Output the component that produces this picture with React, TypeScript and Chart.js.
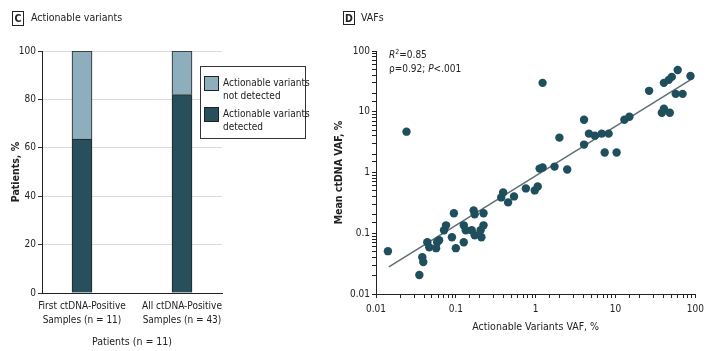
import React, { useEffect, useRef } from "react";
import { Chart, registerables } from "chart.js";
Chart.register(...registerables);

const FONT = "'DejaVu Sans Condensed', 'Liberation Sans Narrow', sans-serif";

// Panel C
const barCategories = [
  ["First ctDNA-Positive", "Samples (n = 11)"],
  ["All ctDNA-Positive", "Samples (n = 43)"],
];
const detected = [63.6, 82];
const notDetected = [36.4, 18];
const barLegend = ["Actionable variants not detected", "Actionable variants detected"];

// Panel D
const vafActionable = [0.0141, 0.0241, 0.0349, 0.038, 0.0391, 0.0439, 0.0464, 0.0583, 0.0617, 0.0566, 0.0711, 0.0753, 0.0945, 0.0893, 0.1, 0.1256, 0.133, 0.1256, 0.167, 0.172, 0.158, 0.172, 0.222, 0.222, 0.209, 0.204, 0.391, 0.37, 0.451, 0.535, 0.753, 0.972, 1.06, 1.12, 1.22, 1.22, 1.72, 2.48, 1.98, 4.03, 4.03, 4.64, 5.51, 6.72, 8.19, 7.31, 10.3, 12.9, 14.9, 26.3, 40.3, 46.4, 50.6, 60.0, 86.7, 56.6, 69.1, 38.0, 47.8, 40.3];
const vafMean = [0.0507, 4.7, 0.0205, 0.0404, 0.0335, 0.0712, 0.0589, 0.0712, 0.0768, 0.0568, 0.112, 0.135, 0.213, 0.086, 0.0568, 0.135, 0.112, 0.0712, 0.238, 0.205, 0.112, 0.0927, 0.213, 0.135, 0.086, 0.112, 0.47, 0.389, 0.322, 0.404, 0.547, 0.507, 0.589, 1.16, 1.21, 29.9, 1.25, 1.12, 3.75, 7.39, 2.88, 4.36, 4.04, 4.36, 4.36, 2.13, 2.13, 7.39, 8.28, 22.1, 29.9, 33.5, 37.5, 48.8, 38.9, 19.7, 19.7, 9.63, 9.63, 11.2];
const fitX = [0.0145, 95];
const fitY = [0.028, 36];

const DARK = "#28505c";
const LIGHT = "#8eaebd";

function isDecade(v: number) {
  const l = Math.log10(v);
  return Math.abs(l - Math.round(l)) < 1e-6;
}

export default function App() {
  const leftRef = useRef<HTMLCanvasElement>(null);
  const rightRef = useRef<HTMLCanvasElement>(null);

  useEffect(() => {
    const left = new Chart(leftRef.current!, {
      type: "bar",
      data: {
        datasets: [
          {
            label: barLegend[1],
            data: detected.map((v, i) => ({ x: i, y: v })),
            backgroundColor: DARK,
            borderColor: "#222",
            borderWidth: 1,
            barThickness: 20,
          },
          {
            label: barLegend[0],
            data: notDetected.map((v, i) => ({ x: i, y: v })),
            backgroundColor: LIGHT,
            borderColor: "#222",
            borderWidth: 1,
            barThickness: 20,
          },
        ],
      },
      options: {
        animation: false,
        responsive: false,
        layout: { padding: { left: 0, right: 108, top: 51, bottom: 0 } },
        plugins: { legend: { display: false }, tooltip: { enabled: false } },
        scales: {
          x: {
            type: "linear",
            stacked: true,
            offset: false,
            min: -0.4,
            max: 1.4,
            afterBuildTicks: (s: any) => {
              s.ticks = [{ value: 0 }, { value: 1 }];
            },
            afterFit: (s: any) => {
              s.height = 58;
            },
            grid: { display: false, drawTicks: false },
            border: { display: true, color: "#222", width: 1 },
            ticks: {
              autoSkip: false,
              maxRotation: 0,
              padding: 6,
              color: "#222",
              font: { family: FONT, size: 10, lineHeight: 1.45 },
              callback: (v: any) => barCategories[v as number] ?? "",
            },
            title: {
              display: true,
              text: "Patients (n = 11)",
              color: "#222",
              font: { family: FONT, size: 10.5 },
              padding: { top: 0, bottom: 2 },
            },
          },
          y: {
            stacked: true,
            min: 0,
            max: 100,
            afterFit: (s: any) => {
              s.width = 42;
            },
            grid: { color: "#dcdcdc", tickColor: "#333", tickLength: 4 },
            border: { display: true, color: "#222", width: 1 },
            ticks: {
              stepSize: 20,
              padding: 2,
              color: "#222",
              font: { family: FONT, size: 10 },
            },
            title: {
              display: true,
              text: "Patients, %",
              color: "#222",
              font: { family: FONT, size: 10.5, weight: "bold" },
              padding: { top: 10, bottom: 0 },
            },
          },
        },
      },
    } as any);

    const right = new Chart(rightRef.current!, {
      type: "scatter",
      data: {
        datasets: [
          {
            label: "VAF",
            data: vafActionable.map((x, i) => ({ x, y: vafMean[i] })),
            backgroundColor: "#1f4f5c",
            borderColor: "#1f4f5c",
            pointRadius: 4.2,
            borderWidth: 0,
          },
          {
            type: "line",
            label: "Fit",
            data: fitX.map((x, i) => ({ x, y: fitY[i] })),
            borderColor: "#5e6e72",
            borderWidth: 1.5,
            pointRadius: 0,
            showLine: true,
            fill: false,
          },
        ],
      },
      options: {
        animation: false,
        responsive: false,
        layout: { padding: { left: 0, right: 9, top: 51, bottom: 16 } },
        plugins: { legend: { display: false }, tooltip: { enabled: false } },
        scales: {
          x: {
            type: "logarithmic",
            min: 0.01,
            max: 100,
            afterFit: (s: any) => {
              s.height = 41;
            },
            grid: { drawOnChartArea: false, color: "#222", tickLength: 4 },
            border: { display: true, color: "#222", width: 1 },
            ticks: {
              autoSkip: false,
              maxRotation: 0,
              padding: 5,
              color: "#222",
              font: { family: FONT, size: 10 },
              callback: (v: any) => (isDecade(v) ? String(Number(v.toPrecision(1))) : ""),
            },
            title: {
              display: true,
              text: "Actionable Variants VAF, %",
              color: "#222",
              font: { family: FONT, size: 10.5 },
              padding: { top: 0, bottom: 1 },
            },
          },
          y: {
            type: "logarithmic",
            min: 0.01,
            max: 100,
            afterFit: (s: any) => {
              s.width = 46;
            },
            grid: { drawOnChartArea: false, color: "#222", tickLength: 4 },
            border: { display: true, color: "#222", width: 1 },
            ticks: {
              autoSkip: false,
              padding: 2,
              color: "#222",
              font: { family: FONT, size: 10 },
              callback: (v: any) => (isDecade(v) ? String(Number(v.toPrecision(1))) : ""),
            },
            title: {
              display: true,
              text: "Mean ctDNA VAF, %",
              color: "#222",
              font: { family: FONT, size: 10.5, weight: "bold" },
              padding: { top: 3, bottom: 0 },
            },
          },
        },
      },
    } as any);

    return () => {
      left.destroy();
      right.destroy();
    };
  }, []);

  const txt: React.CSSProperties = {
    position: "absolute",
    fontFamily: FONT,
    color: "#222",
    whiteSpace: "nowrap",
  };
  const box: React.CSSProperties = {
    position: "absolute",
    border: "1px solid #222",
    fontFamily: FONT,
    fontWeight: "bold",
    fontSize: 10.5,
    lineHeight: "13px",
    textAlign: "center",
    color: "#222",
    boxSizing: "border-box",
  };
  const swatch = (c: string, top: number): React.CSSProperties => ({
    position: "absolute",
    left: 3,
    top,
    width: 15,
    height: 15,
    background: c,
    border: "1px solid #222",
    boxSizing: "border-box",
  });
  const legText: React.CSSProperties = {
    position: "absolute",
    left: 22,
    fontFamily: FONT,
    fontSize: 10,
    lineHeight: "12.5px",
    color: "#222",
    whiteSpace: "nowrap",
  };

  return (
    <div style={{ position: "absolute", left: 0, top: 0, width: 709, height: 351, background: "#fff", overflow: "hidden" }}>
      <canvas ref={leftRef} width={330} height={351} style={{ position: "absolute", left: 0, top: 0, width: 330, height: 351 }} />
      <canvas ref={rightRef} width={379} height={351} style={{ position: "absolute", left: 330, top: 0, width: 379, height: 351 }} />

      <div style={{ ...box, left: 12, top: 11, width: 12, height: 15 }}>C</div>
      <div style={{ ...txt, left: 31, top: 10, fontSize: 10.5, lineHeight: "15px" }}>Actionable variants</div>

      <div style={{ ...box, left: 343, top: 11, width: 12, height: 14 }}>D</div>
      <div style={{ ...txt, left: 361, top: 10, fontSize: 10.5, lineHeight: "15px" }}>VAFs</div>

      <div style={{ position: "absolute", left: 200, top: 66, width: 106, height: 73, border: "1px solid #333", boxSizing: "border-box", background: "#fff" }}>
        <div style={swatch(LIGHT, 9)} />
        <div style={{ ...legText, top: 10 }}>Actionable variants<br />not detected</div>
        <div style={swatch(DARK, 40)} />
        <div style={{ ...legText, top: 41 }}>Actionable variants<br />detected</div>
      </div>

      <div style={{ ...txt, left: 389, top: 48, fontSize: 10, lineHeight: "14px" }}>
        <i>R</i><sup style={{ fontSize: 7, verticalAlign: "4px", lineHeight: 0 }}>2</sup>=0.85
        <br />ρ=0.92; <i>P</i>&lt;.001
      </div>
    </div>
  );
}
